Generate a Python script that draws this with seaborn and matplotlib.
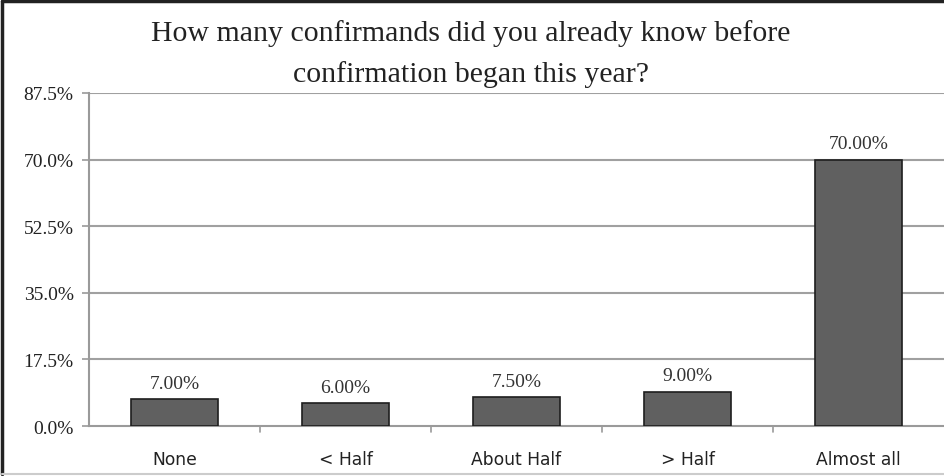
import matplotlib
matplotlib.use("Agg")
import matplotlib.pyplot as plt
import seaborn as sns
import pandas as pd
from matplotlib.lines import Line2D

# data
categories = ["None", "< Half", "About Half", "> Half", "Almost all"]
percent = [7.0, 6.0, 7.5, 9.0, 70.0]
y_ticks = [0.0, 17.5, 35.0, 52.5, 70.0, 87.5]

df = pd.DataFrame({"answer": categories, "pct": percent})

sns.set_theme(style="white")
plt.rcParams["font.family"] = ["DejaVu Sans"]

fig = plt.figure(figsize=(9.44, 4.77), dpi=100)
ax = fig.add_axes([0.0943, 0.1048, 0.9057, 0.6982])

sns.barplot(data=df, x="answer", y="pct", color="#606060", width=0.51,
            edgecolor="#1e1e1e", linewidth=1.2, saturation=1, ax=ax, zorder=3)

ax.set_ylim(0, 87.5)
ax.set_xlim(-0.5, len(categories) - 0.5)
ax.set_yticks(y_ticks)
ax.set_yticklabels([f"{t:.1f}%" for t in y_ticks], family="Liberation Serif",
                   fontsize=14, color="#222222")
ax.tick_params(axis="y", length=5, width=1.2, color="#9a9a9a", pad=6, left=True)
ax.set_xticks(range(len(categories)))
ax.set_xticklabels(categories, fontsize=12.3, color="#222222")
ax.tick_params(axis="x", length=0, pad=17)
# ticks between categories on the x axis
for b in [0.5, 1.5, 2.5, 3.5]:
    ax.plot([b, b], [0, -1.6], color="#9a9a9a", lw=1.2, clip_on=False, zorder=4)

for y in y_ticks[1:]:
    ax.axhline(y, color="#a0a0a0", lw=1.5, zorder=1)

ax.set_xlabel("")
ax.set_ylabel("")
for side in ["top", "right"]:
    ax.spines[side].set_visible(False)
ax.spines["left"].set_color("#9a9a9a")
ax.spines["left"].set_linewidth(1.5)
ax.spines["bottom"].set_color("#9a9a9a")
ax.spines["bottom"].set_linewidth(1.5)

for i, v in enumerate(percent):
    ax.text(i, v + 2.0, f"{v:.2f}%", ha="center", va="bottom",
            family="Liberation Serif", fontsize=14, color="#333333")

fig.text(0.499, 0.958, "How many confirmands did you already know before\nconfirmation began this year?",
         ha="center", va="top", family="Liberation Serif", fontsize=21.5,
         color="#222222", linespacing=1.65)

# frame around the picture
fig.add_artist(Line2D([0.002, 0.002], [0.004, 0.996], color="#222222", lw=2.5))
fig.add_artist(Line2D([0.002, 1.0], [0.996, 0.996], color="#222222", lw=2.5))
fig.add_artist(Line2D([0.002, 1.0], [0.005, 0.005], color="#cccccc", lw=1.5))

fig.savefig("out.png", dpi=100)
